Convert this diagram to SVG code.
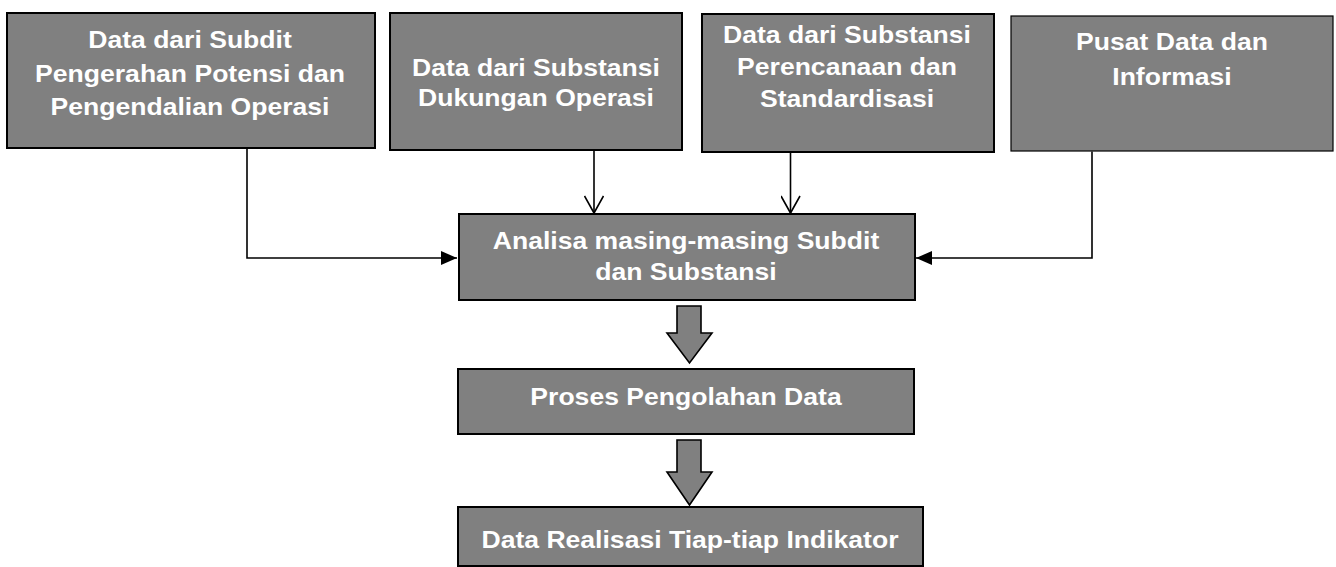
<svg xmlns="http://www.w3.org/2000/svg" width="1336" height="567" viewBox="0 0 1336 567">
<defs>
<style>
.box{fill:#808080;stroke:#000;stroke-width:2}
.box.thin{stroke-width:1.2}
.t{font-family:"Liberation Sans",Arial,sans-serif;font-weight:bold;font-size:23px;fill:#fff;text-anchor:middle}
.c{fill:none;stroke:#000;stroke-width:1.6}
.blk{fill:#808080;stroke:#000;stroke-width:1.6;stroke-linejoin:miter}
</style>
<marker id="open" viewBox="0 0 20 20" refX="18" refY="10" markerWidth="20" markerHeight="20" markerUnits="userSpaceOnUse" orient="auto">
<path d="M1,0.5 L18,10 L1,19.5" fill="none" stroke="#000" stroke-width="1.6"/>
</marker>
<marker id="fill" viewBox="0 0 16 14" refX="16" refY="7" markerWidth="16" markerHeight="14" markerUnits="userSpaceOnUse" orient="auto">
<path d="M0,0 L16,7 L0,14 Z" fill="#000"/>
</marker>
</defs>
<rect width="1336" height="567" fill="#fff"/>

<g id="connectors">
<polyline class="c" points="247,149 247,258 457,258" marker-end="url(#fill)"/>
<line class="c" x1="594" y1="151" x2="594" y2="213" marker-end="url(#open)"/>
<line class="c" x1="790.5" y1="152.5" x2="790.5" y2="213" marker-end="url(#open)"/>
<polyline class="c" points="1092,151.5 1092,258 916,258" marker-end="url(#fill)"/>
<polygon class="blk" points="677,306 701,306 701,333 712,333 689.5,363 667,333 677,333"/>
<polygon class="blk" points="677,440 701,440 701,472 712,472 689.5,505 667,472 677,472"/>
</g>

<g id="n1">
<rect class="box" x="7" y="13" width="368" height="135"/>
<text class="t" transform="matrix(1.155,0,0,1,190,0)"><tspan x="0" y="48">Data dari Subdit</tspan><tspan x="0" y="82">Pengerahan Potensi dan</tspan><tspan x="0" y="115">Pengendalian Operasi</tspan></text>
</g>

<g id="n2">
<rect class="box" x="390" y="13" width="292" height="137"/>
<text class="t" transform="matrix(1.155,0,0,1,536,0)"><tspan x="0" y="76">Data dari Substansi</tspan><tspan x="0" y="106">Dukungan Operasi</tspan></text>
</g>

<g id="n3">
<rect class="box" x="702" y="14" width="292" height="138"/>
<text class="t" transform="matrix(1.155,0,0,1,847,0)"><tspan x="0" y="43">Data dari Substansi</tspan><tspan x="0" y="75">Perencanaan dan</tspan><tspan x="0" y="107">Standardisasi</tspan></text>
</g>

<g id="n4">
<rect class="box thin" x="1011" y="16" width="322" height="135"/>
<text class="t" transform="matrix(1.155,0,0,1,1172,0)"><tspan x="0" y="50">Pusat Data dan</tspan><tspan x="0" y="85">Informasi</tspan></text>
</g>

<g id="n5">
<rect class="box" x="459" y="214" width="456" height="86"/>
<text class="t" transform="matrix(1.155,0,0,1,686,0)"><tspan x="0" y="249">Analisa masing-masing Subdit</tspan><tspan x="0" y="280">dan Substansi</tspan></text>
</g>

<g id="n6">
<rect class="box" x="458" y="369" width="456" height="65"/>
<text class="t" transform="matrix(1.155,0,0,1,686,0)"><tspan x="0" y="405">Proses Pengolahan Data</tspan></text>
</g>

<g id="n7">
<rect class="box" x="458" y="507" width="465" height="59"/>
<text class="t" transform="matrix(1.155,0,0,1,690,0)"><tspan x="0" y="548">Data Realisasi Tiap-tiap Indikator</tspan></text>
</g>
</svg>
